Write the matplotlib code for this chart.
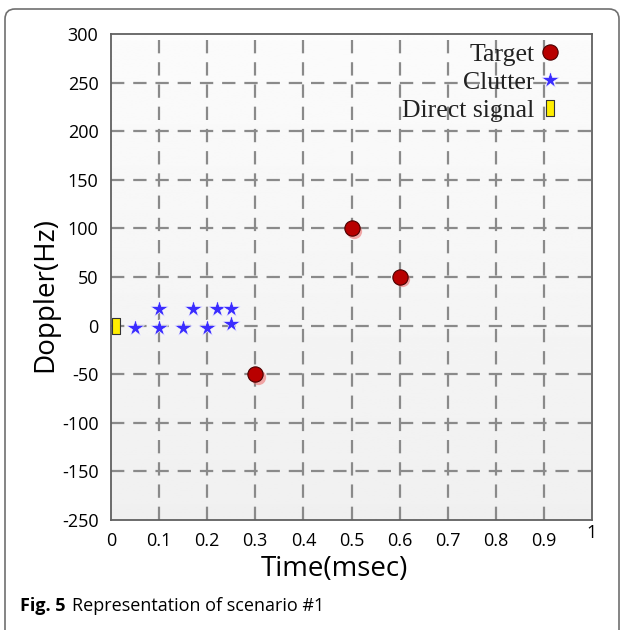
import numpy as np
import matplotlib
matplotlib.use("Agg")
import matplotlib.pyplot as plt
from matplotlib.transforms import ScaledTranslation
from matplotlib.patches import FancyBboxPatch
from matplotlib.path import Path

# ---- data ----
target_time = [0.3, 0.5, 0.6]
target_doppler = [-50, 100, 50]

clutter_time = [0.05, 0.10, 0.10, 0.15, 0.17, 0.20, 0.22, 0.25, 0.25]
clutter_doppler = [-2, -2, 17, -2, 17, -2, 17, 17, 2]

direct_time = [0.01]
direct_doppler = [0]

x_tick_values = [0, 0.1, 0.2, 0.3, 0.4, 0.5, 0.6, 0.7, 0.8, 0.9, 1.0]
x_tick_labels = ["0", "0.1", "0.2", "0.3", "0.4", "0.5", "0.6", "0.7", "0.8", "0.9", "1"]
y_tick_values = [-200, -150, -100, -50, 0, 50, 100, 150, 200, 250, 300]
y_tick_labels = ["-250", "-150", "-100", "-50", "0", "50", "100", "150", "200", "250", "300"]

sans = ["Open Sans", "DejaVu Sans"]
serif = ["Liberation Serif", "DejaVu Serif"]

fig = plt.figure(figsize=(6.23, 6.30), dpi=100)
fig.patch.set_facecolor("white")

# rounded figure frame, open at the bottom
frame = FancyBboxPatch((5 / 623, -0.05), 614 / 623, 1.0 - 9 / 630 + 0.05,
                       boxstyle="round,pad=0,rounding_size=0.016",
                       transform=fig.transFigure, facecolor="none",
                       edgecolor="#707070", linewidth=1.2, zorder=0)
fig.patches.append(frame)

ax = fig.add_axes([111 / 623, 1 - 520 / 630, 481 / 623, 486 / 630])
ax.set_xlim(0, 1)
ax.set_ylim(-200, 300)

# soft vertical gradient background
grad = np.linspace(0.94, 0.985, 256).reshape(-1, 1)
ax.imshow(grad, extent=[0, 1, -200, 300], aspect="auto", cmap="gray",
          vmin=0, vmax=1, origin="lower", zorder=0)

# dashed grid lines
for xv in x_tick_values[1:-1]:
    ax.axvline(xv, color="#8a8a8a", lw=1.6, dashes=(6, 4), zorder=1)
for yv in y_tick_values[1:-1]:
    ax.axhline(yv, color="#8a8a8a", lw=1.6, dashes=(6, 4), zorder=1)

# target markers with a soft offset shadow
shadow = ax.transData + ScaledTranslation(2.5 / 100, -2.5 / 100, fig.dpi_scale_trans)
ax.plot(target_time, target_doppler, "o", ms=11, color="#ee7070", alpha=0.6,
        mec="none", transform=shadow, zorder=3)
ax.plot(target_time, target_doppler, "o", ms=11, color="#b80000",
        mec="#4a0000", mew=0.8, zorder=4, label="Target")

ax.plot(clutter_time, clutter_doppler, "*", ms=13, color="#3a2cff",
        mec="white", mew=0.4, zorder=4, linestyle="none", label="Clutter")

rect_marker = Path([(-0.25, -0.5), (0.25, -0.5), (0.25, 0.5), (-0.25, 0.5), (-0.25, -0.5)],
                   [Path.MOVETO, Path.LINETO, Path.LINETO, Path.LINETO, Path.CLOSEPOLY])
ax.plot(direct_time, direct_doppler, marker=rect_marker, ms=11.5, color="#ffee00",
        mec="#333333", mew=0.8, linestyle="none", zorder=4, label="Direct signal")

for s in ax.spines.values():
    s.set_color("#606060")
    s.set_linewidth(1.3)

ax.set_xticks(x_tick_values)
ax.set_xticklabels(x_tick_labels, family=sans, fontsize=13)
ax.set_yticks(y_tick_values)
ax.set_yticklabels(y_tick_labels, family=sans, fontsize=13)
ax.tick_params(length=0)
ax.tick_params(axis="x", pad=9)
ax.tick_params(axis="y", pad=9)
last = ax.get_xticklabels()[-1]
last.set_transform(last.get_transform() + ScaledTranslation(0, 9 / 100, fig.dpi_scale_trans))

ax.set_xlabel("Time(msec)", family=sans, fontsize=20)
ax.xaxis.set_label_coords(0.464, -0.072)
ax.set_ylabel("Doppler(Hz)", family=sans, fontsize=20)
ax.yaxis.set_label_coords(-0.108, 0.463)

leg = ax.legend(loc="upper right", bbox_to_anchor=(0.928, 0.981), frameon=False,
                markerfirst=False, prop={"family": serif, "size": 18.5},
                handlelength=0.6, handletextpad=0.3, labelspacing=0.2,
                borderaxespad=0.0, borderpad=0.0)
for t in leg.get_texts():
    t.set_color("#222222")

# caption: bold figure number followed by the description
cap_y = 1 - 606 / 630
fig_num = fig.text(20 / 623, cap_y, "Fig. 5", family=sans, fontweight="bold",
                   fontsize=13, va="center", ha="left")
fig.canvas.draw()
bb = fig_num.get_window_extent()
fig.text((bb.x1 + 6) / 623, cap_y, "Representation of scenario #1", family=sans,
         fontsize=13, va="center", ha="left")

fig.savefig("out.png", dpi=100)
